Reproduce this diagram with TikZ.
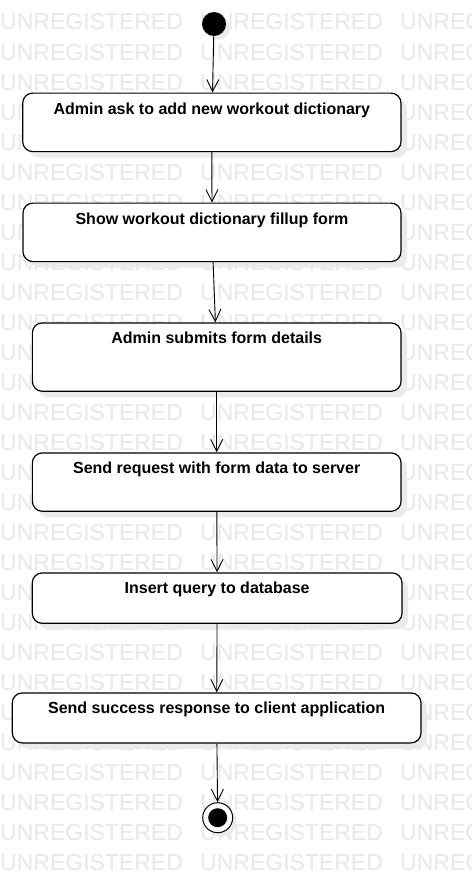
\documentclass[tikz,border=0pt]{standalone}
\usepackage{fontspec}
\setmainfont{Liberation Sans}
\usetikzlibrary{arrows.meta,shadows}
\tikzset{
  act/.style={draw,line width=1.2pt,rounded corners=10pt,fill=white,anchor=north,
    inner xsep=0pt,inner ysep=0pt,text height=21pt,
    font=\bfseries\fontsize{16}{19}\selectfont,
    drop shadow={shadow xshift=6pt,shadow yshift=-6pt,fill=black!8,opacity=1}},
  flow/.style={-{Straight Barb[length=12pt,width=12pt]},line width=.9pt},
  wm/.style={text=black!9,font=\fontsize{23}{23}\selectfont,inner sep=0pt,anchor=base west}
}
\begin{document}
\begin{tikzpicture}[x=1pt,y=-1pt]
  \useasboundingbox[fill=white] (0,0) rectangle (471,883);
  \begin{scope}
    \clip (0,0) rectangle (471,883);
    \foreach \r in {1,...,29}
      \foreach \c in {0,1,2}
        \node[wm] (wm-\r-\c) at (200*\c,30*\r) {UNREGISTERED};
  \end{scope}
  \node[circle,fill=black,minimum size=24pt,inner sep=0pt,
    drop shadow={shadow xshift=4pt,shadow yshift=-4pt,fill=black!8,opacity=1}] (start) at (214,24) {};
  \node[act,minimum width=378.3pt,text depth=37.5pt] (act1) at (211.85,92.5) {Admin ask to add new workout dictionary};
  \node[act,minimum width=378pt,text depth=37.5pt] (act2) at (212,202.5) {Show workout dictionary fillup form};
  \node[act,minimum width=368.7pt,text depth=47.4pt] (act3) at (216.7,322.3) {Admin submits form details};
  \node[act,minimum width=368.7pt,text depth=37.4pt] (act4) at (216.7,452.3) {Send request with form data to server};
  \node[act,minimum width=369.7pt,text depth=29.4pt] (act5) at (217.15,572.3) {Insert query to database};
  \node[act,minimum width=408.7pt,text depth=29pt] (act6) at (216.65,692.3) {Send success response to client application};
  \node[circle,draw,line width=1pt,fill=white,minimum size=30pt,inner sep=0pt,
    drop shadow={shadow xshift=4pt,shadow yshift=-4pt,fill=black!8,opacity=1}] (stop) at (217.7,817.7) {};
  \node[circle,fill=black,minimum size=19pt,inner sep=0pt] (stopDot) at (stop) {};
  \draw[flow] (start) -- (act1);
  \draw[flow] (act1) -- (act2);
  \draw[flow] (act2) -- (act3);
  \draw[flow] (act3) -- (act4);
  \draw[flow] (act4) -- (act5);
  \draw[flow] (act5) -- (act6);
  \draw[flow] (act6) -- (stop);
\end{tikzpicture}
\end{document}
